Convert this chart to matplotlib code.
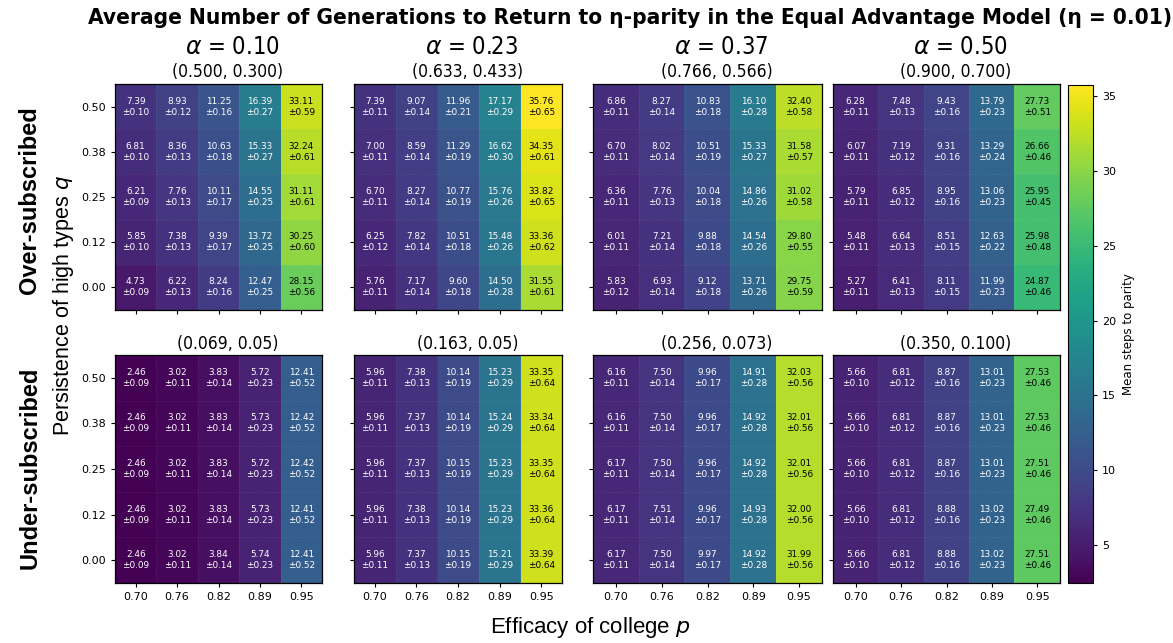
import numpy as np
import matplotlib
matplotlib.use("Agg")
import matplotlib.pyplot as plt
from matplotlib import font_manager as fm
from matplotlib.cm import ScalarMappable
from matplotlib.colors import Normalize

# ---------------- data ----------------
p_labels = ["0.70", "0.76", "0.82", "0.89", "0.95"]
q_labels = ["0.50", "0.38", "0.25", "0.12", "0.00"]   # top -> bottom
alpha_titles = [r"$\alpha$ = 0.10", r"$\alpha$ = 0.23", r"$\alpha$ = 0.37", r"$\alpha$ = 0.50"]
over_titles = ["(0.500, 0.300)", "(0.633, 0.433)", "(0.766, 0.566)", "(0.900, 0.700)"]
under_titles = ["(0.069, 0.05)", "(0.163, 0.05)", "(0.256, 0.073)", "(0.350, 0.100)"]

# Over-subscribed means (rows: q top->bottom, cols: p)
over_a010 = [[7.39, 8.93, 11.25, 16.39, 33.11],
             [6.81, 8.36, 10.63, 15.33, 32.24],
             [6.21, 7.76, 10.11, 14.55, 31.11],
             [5.85, 7.38, 9.39, 13.72, 30.25],
             [4.73, 6.22, 8.24, 12.47, 28.15]]
over_a010_se = [[0.10, 0.12, 0.16, 0.27, 0.59],
                [0.10, 0.13, 0.18, 0.27, 0.61],
                [0.09, 0.13, 0.17, 0.25, 0.61],
                [0.10, 0.13, 0.17, 0.25, 0.60],
                [0.09, 0.13, 0.16, 0.25, 0.56]]
over_a023 = [[7.39, 9.07, 11.96, 17.17, 35.76],
             [7.00, 8.59, 11.29, 16.62, 34.35],
             [6.70, 8.27, 10.77, 15.76, 33.82],
             [6.25, 7.82, 10.51, 15.48, 33.36],
             [5.76, 7.17, 9.60, 14.50, 31.55]]
over_a023_se = [[0.11, 0.14, 0.21, 0.29, 0.65],
                [0.11, 0.14, 0.19, 0.30, 0.61],
                [0.11, 0.14, 0.19, 0.26, 0.65],
                [0.12, 0.14, 0.18, 0.26, 0.62],
                [0.11, 0.14, 0.18, 0.28, 0.61]]
over_a037 = [[6.86, 8.27, 10.83, 16.10, 32.40],
             [6.70, 8.02, 10.51, 15.33, 31.58],
             [6.36, 7.76, 10.04, 14.86, 31.02],
             [6.01, 7.21, 9.88, 14.54, 29.80],
             [5.83, 6.93, 9.12, 13.71, 29.75]]
over_a037_se = [[0.11, 0.14, 0.18, 0.28, 0.58],
                [0.11, 0.14, 0.19, 0.27, 0.57],
                [0.11, 0.13, 0.18, 0.26, 0.58],
                [0.11, 0.14, 0.18, 0.26, 0.55],
                [0.12, 0.14, 0.18, 0.26, 0.59]]
over_a050 = [[6.28, 7.48, 9.43, 13.79, 27.73],
             [6.07, 7.19, 9.31, 13.29, 26.66],
             [5.79, 6.85, 8.95, 13.06, 25.95],
             [5.48, 6.64, 8.51, 12.63, 25.98],
             [5.27, 6.41, 8.11, 11.99, 24.87]]
over_a050_se = [[0.11, 0.13, 0.16, 0.23, 0.51],
                [0.11, 0.12, 0.16, 0.24, 0.46],
                [0.11, 0.12, 0.16, 0.23, 0.45],
                [0.11, 0.13, 0.15, 0.22, 0.48],
                [0.11, 0.13, 0.15, 0.23, 0.46]]

# Under-subscribed means
under_a010 = [[2.46, 3.02, 3.83, 5.72, 12.41],
              [2.46, 3.02, 3.83, 5.73, 12.42],
              [2.46, 3.02, 3.83, 5.72, 12.42],
              [2.46, 3.02, 3.83, 5.73, 12.41],
              [2.46, 3.02, 3.84, 5.74, 12.41]]
under_a010_se = [[0.09, 0.11, 0.14, 0.23, 0.52],
                 [0.09, 0.11, 0.14, 0.23, 0.52],
                 [0.09, 0.11, 0.14, 0.23, 0.52],
                 [0.09, 0.11, 0.14, 0.23, 0.52],
                 [0.09, 0.11, 0.14, 0.23, 0.52]]
under_a023 = [[5.96, 7.38, 10.14, 15.23, 33.35],
              [5.96, 7.37, 10.14, 15.24, 33.34],
              [5.96, 7.37, 10.15, 15.23, 33.35],
              [5.96, 7.38, 10.14, 15.23, 33.36],
              [5.96, 7.37, 10.15, 15.21, 33.39]]
under_a023_se = [[0.11, 0.13, 0.19, 0.29, 0.64],
                 [0.11, 0.13, 0.19, 0.29, 0.64],
                 [0.11, 0.13, 0.19, 0.29, 0.64],
                 [0.11, 0.13, 0.19, 0.29, 0.64],
                 [0.11, 0.13, 0.19, 0.29, 0.64]]
under_a037 = [[6.16, 7.50, 9.96, 14.91, 32.03],
              [6.16, 7.50, 9.96, 14.92, 32.01],
              [6.17, 7.50, 9.96, 14.92, 32.01],
              [6.17, 7.51, 9.96, 14.93, 32.00],
              [6.17, 7.50, 9.97, 14.92, 31.99]]
under_a037_se = [[0.11, 0.14, 0.17, 0.28, 0.56],
                 [0.11, 0.14, 0.17, 0.28, 0.56],
                 [0.11, 0.14, 0.17, 0.28, 0.56],
                 [0.11, 0.14, 0.17, 0.28, 0.56],
                 [0.11, 0.14, 0.17, 0.28, 0.56]]
under_a050 = [[5.66, 6.81, 8.87, 13.01, 27.53],
              [5.66, 6.81, 8.87, 13.01, 27.53],
              [5.66, 6.81, 8.87, 13.01, 27.51],
              [5.66, 6.81, 8.88, 13.02, 27.49],
              [5.66, 6.81, 8.88, 13.02, 27.51]]
under_a050_se = [[0.10, 0.12, 0.16, 0.23, 0.46],
                 [0.10, 0.12, 0.16, 0.23, 0.46],
                 [0.10, 0.12, 0.16, 0.23, 0.46],
                 [0.10, 0.12, 0.16, 0.23, 0.46],
                 [0.10, 0.12, 0.16, 0.23, 0.46]]

over_means = [over_a010, over_a023, over_a037, over_a050]
over_ses = [over_a010_se, over_a023_se, over_a037_se, over_a050_se]
under_means = [under_a010, under_a023, under_a037, under_a050]
under_ses = [under_a010_se, under_a023_se, under_a037_se, under_a050_se]

# ---------------- fonts ----------------
names = {f.name for f in fm.fontManager.ttflist}
if "Liberation Sans Narrow" in names:
    NARROW = dict(family="Liberation Sans Narrow")
else:
    NARROW = dict(family="DejaVu Sans", stretch="condensed")
SANS = "Liberation Sans" if "Liberation Sans" in names else "DejaVu Sans"

# ---------------- figure ----------------
W, H = 1173, 643
fig = plt.figure(figsize=(W / 100, H / 100), dpi=100)


def rect(x0, y0, x1, y1):
    return [x0 / W, 1 - y1 / H, (x1 - x0) / W, (y1 - y0) / H]


col_x = [(115, 322), (354, 562), (593, 822), (833, 1060)]
row_y = [(84, 310), (355, 583)]

all_vals = np.array(over_means + under_means)
norm = Normalize(vmin=all_vals.min(), vmax=all_vals.max())
cmap = plt.get_cmap("viridis")

for r, (means, ses) in enumerate([(over_means, over_ses), (under_means, under_ses)]):
    for c in range(4):
        ax = fig.add_axes(rect(col_x[c][0], row_y[r][0], col_x[c][1], row_y[r][1]))
        M = np.array(means[c])
        S = np.array(ses[c])
        ax.imshow(M, cmap=cmap, norm=norm, aspect="auto", interpolation="nearest")
        for k in range(1, 5):
            ax.axhline(k - 0.5, color="white", lw=0.5, ls=":", alpha=0.15)
            ax.axvline(k - 0.5, color="white", lw=0.5, ls=":", alpha=0.15)
        for i in range(5):
            for j in range(5):
                color = "black" if M[i, j] > 20 else "white"
                ax.text(j, i, f"{M[i, j]:.2f}\n±{S[i, j]:.2f}", ha="center", va="center",
                        fontsize=6.4, color=color, linespacing=1.3)
        ax.set_xticks(range(5))
        ax.set_yticks(range(5))
        ax.tick_params(labelsize=8, length=3, width=0.8)
        if r == 1:
            ax.set_xticklabels(p_labels)
        else:
            ax.set_xticklabels([])
        if c == 0:
            ax.set_yticklabels(q_labels)
        else:
            ax.set_yticklabels([])
        for sp in ax.spines.values():
            sp.set_linewidth(0.9)
        cx = (col_x[c][0] + col_x[c][1]) / 2 / W
        if r == 0:
            fig.text(cx + 0.012, 1 - 47 / H, alpha_titles[c], ha="center", va="center",
                     fontsize=17, **NARROW)
            fig.text(cx + 0.008, 1 - 72 / H, over_titles[c], ha="center", va="center",
                     fontsize=12.5, **NARROW)
        else:
            fig.text(cx + 0.008, 1 - 344 / H, under_titles[c], ha="center", va="center",
                     fontsize=12.5, **NARROW)

# colorbar
cax = fig.add_axes(rect(1068, 85, 1093, 583))
cb = fig.colorbar(ScalarMappable(norm=norm, cmap=cmap), cax=cax)
cb.set_ticks([5, 10, 15, 20, 25, 30, 35])
cb.ax.tick_params(labelsize=8, length=3)
cb.set_label("Mean steps to parity", fontsize=8.5)
cb.outline.set_linewidth(0.8)

# titles and labels
fig.text(630 / W, 1 - 18 / H,
         "Average Number of Generations to Return to η-parity in the Equal Advantage Model (η = 0.01)",
         ha="center", va="center", fontsize=16.2, fontweight="bold", **NARROW)
fig.text(30 / W, 1 - 200 / H, "Over-subscribed", rotation=90, ha="center", va="center",
         fontsize=17, fontweight="bold", family=SANS)
fig.text(30 / W, 1 - 468 / H, "Under-subscribed", rotation=90, ha="center", va="center",
         fontsize=17, fontweight="bold", family=SANS)
fig.text(64 / W, 1 - 305 / H, r"Persistence of high types $q$", rotation=90, ha="center",
         va="center", fontsize=15.5, family=SANS)
fig.text(590 / W, 1 - 628 / H, r"Efficacy of college $p$", ha="center", va="center",
         fontsize=16, family=SANS)

fig.savefig("out.png", dpi=100)
